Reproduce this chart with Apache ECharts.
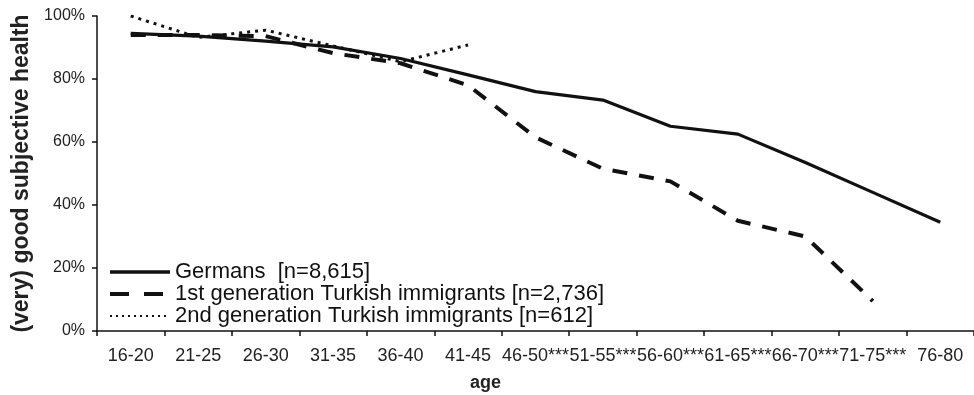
<!DOCTYPE html>
<html>
<head>
<meta charset="utf-8">
<script src="https://cdn.jsdelivr.net/npm/echarts@6/dist/echarts.min.js"></script>
<style>
html,body{margin:0;padding:0;background:#fff;}
#chart{width:974px;height:395px;}
</style>
</head>
<body>
<div id="chart"></div>
<script>
const categories = ['16-20','21-25','26-30','31-35','36-40','41-45','46-50***','51-55***','56-60***','61-65***','66-70***','71-75***','76-80'];
const germans   = [94.5, 93.6, 92, 90.2, 86.5, 81.3, 76, 73.3, 65, 62.5, 53.5, 44, 34.5];
const firstGen  = [94, 94, 93.6, 88.2, 85, 78, 61.5, 51.5, 47.5, 35, 30, 9.5, null];
const secondGen = [100, 93.2, 95.5, 90.5, 85.5, 90.8, null, null, null, null, null, null, null];
const yTicks = [0, 20, 40, 60, 80, 100];
const seriesNames = ['Germans  [n=8,615]', '1st generation Turkish immigrants [n=2,736]', '2nd generation Turkish immigrants [n=612]'];

const FONT = '"Liberation Sans", Arial, sans-serif';
const chart = echarts.init(document.getElementById('chart'), null, {renderer: 'canvas'});
chart.setOption({
  animation: false,
  backgroundColor: '#fff',
  grid: {left: 97, right: 0, top: 16, bottom: 64, containLabel: false, outerBoundsMode: 'none'},
  legend: {
    orient: 'vertical',
    left: 108, top: 261, padding: 0,
    itemWidth: 60, itemHeight: 22, itemGap: 0,
    itemStyle: {opacity: 0},
    textStyle: {fontFamily: FONT, fontSize: 22, color: '#111', lineHeight: 22},
    data: [
      {name: seriesNames[0], lineStyle: {width: 3.5, type: 'solid', color: '#111'}},
      {name: seriesNames[1], lineStyle: {width: 4, type: [19, 15], color: '#111'}},
      {name: seriesNames[2], lineStyle: {width: 2, type: [2, 4], color: '#111'}}
    ]
  },
  xAxis: {
    type: 'category',
    data: categories,
    boundaryGap: true,
    axisLine: {lineStyle: {color: '#111', width: 1.5}},
    axisTick: {show: true, length: 5, lineStyle: {color: '#111', width: 1.5}, alignWithLabel: false},
    axisLabel: {interval: 0, fontFamily: FONT, fontSize: 18, color: '#222', margin: 16}
  },
  yAxis: {
    type: 'value',
    min: yTicks[0], max: yTicks[yTicks.length-1], interval: 20,
    name: '(very) good subjective health',
    nameLocation: 'middle', nameRotate: 90, nameGap: 62,
    nameTextStyle: {fontFamily: FONT, fontSize: 23, fontWeight: 'bold', color: '#222'},
    splitLine: {show: false},
    axisLine: {show: true, lineStyle: {color: '#111', width: 1.5}},
    axisTick: {show: true, length: 5, lineStyle: {color: '#111', width: 1.5}},
    axisLabel: {fontFamily: FONT, fontSize: 16, color: '#222', margin: 12, formatter: v => v + '%'}
  },
  graphic: [{
    type: 'text', left: 470, top: 374,
    style: {text: 'age', font: 'bold 18px "Liberation Sans", Arial, sans-serif', fill: '#222'}
  }],
  series: [
    {name: seriesNames[0], type: 'line', data: germans, symbol: 'none', connectNulls: false,
     lineStyle: {color: '#111', width: 3.2, type: 'solid'}, itemStyle: {color: '#111'}, z: 3},
    {name: seriesNames[1], type: 'line', data: firstGen, symbol: 'none',
     lineStyle: {color: '#111', width: 4, type: [15, 12]}, itemStyle: {color: '#111'}, z: 2},
    {name: seriesNames[2], type: 'line', data: secondGen, symbol: 'none',
     lineStyle: {color: '#111', width: 3, type: [3, 5]}, itemStyle: {color: '#111'}, z: 1}
  ]
});
</script>
</body>
</html>
